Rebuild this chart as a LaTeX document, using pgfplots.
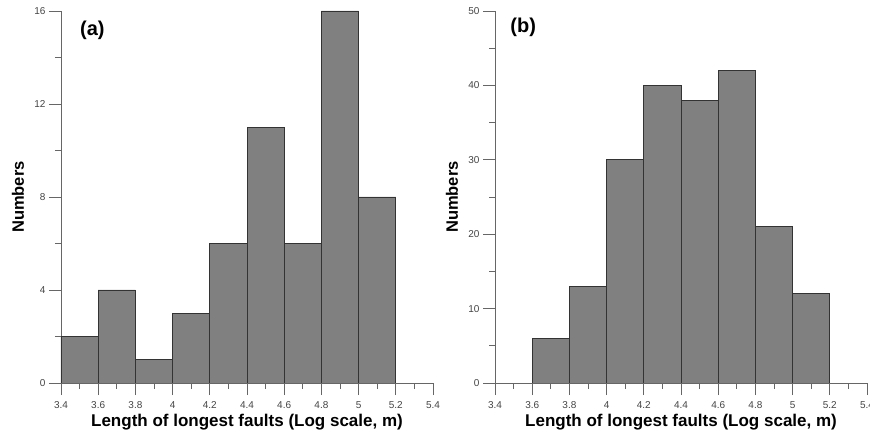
\documentclass[border=0pt]{standalone}
\usepackage{pgfplots}
\pgfplotsset{compat=1.18}
\usepackage{fontspec}
\setmainfont{Liberation Sans}
\definecolor{barfill}{HTML}{808080}
\definecolor{axgray}{HTML}{666666}
\definecolor{lblgray}{HTML}{444444}
\pgfplotsset{
  histo/.style={
    scale only axis,
    width=372pt, height=372pt,
    xmin=3.4, xmax=5.4,
    ymin=0,
    axis lines*=left,
    axis line style={axgray, line width=0.8pt},
    every tick/.style={axgray, line width=0.8pt},
    tick align=outside,
    major tick length=12pt,
    minor tick length=6pt,
    minor tick num=1,
    xtick={3.4,3.6,...,5.41},
    /pgf/number format/assume math mode=true,
    tick label style={font=\fontsize{10}{11}\selectfont, text=lblgray},
    xticklabel style={yshift=-3pt},
    xlabel={Length of longest faults (Log scale, m)},
    ylabel={Numbers},
    every axis x label/.style={at={(axis description cs:0.5,0)}, yshift=-39pt, anchor=center,
      font=\fontsize{17}{19}\selectfont\bfseries},
    every axis y label/.style={at={(axis description cs:0,0.5)}, xshift=-43pt, rotate=90, anchor=center,
      font=\fontsize{16.5}{18}\selectfont\bfseries},
  },
}
\begin{document}
\begin{tikzpicture}
\begin{axis}[histo, at={(61pt,53pt)}, ymax=16, ytick={0,4,8,12,16}]
\addplot[ybar interval, fill=barfill, draw=black!80, line width=0.7pt] coordinates {
  (3.4,2) (3.6,4) (3.8,1) (4.0,3) (4.2,6) (4.4,11) (4.6,6) (4.8,16) (5.0,8) (5.2,8)
};
\node[anchor=west, font=\fontsize{20}{22}\selectfont\bfseries] at (rel axis cs:0.042,0.949) {(a)};
\end{axis}
\begin{axis}[histo, at={(495pt,53pt)}, ymax=50, ytick={0,10,20,30,40,50}]
\addplot[ybar interval, fill=barfill, draw=black!80, line width=0.7pt] coordinates {
  (3.6,6) (3.8,13) (4.0,30) (4.2,40) (4.4,38) (4.6,42) (4.8,21) (5.0,12) (5.2,12)
};
\node[anchor=west, font=\fontsize{20}{22}\selectfont\bfseries] at (rel axis cs:0.032,0.957) {(b)};
\end{axis}
\pgfresetboundingbox
\useasboundingbox (0,0) rectangle (870pt,436pt);
\end{tikzpicture}
\end{document}
